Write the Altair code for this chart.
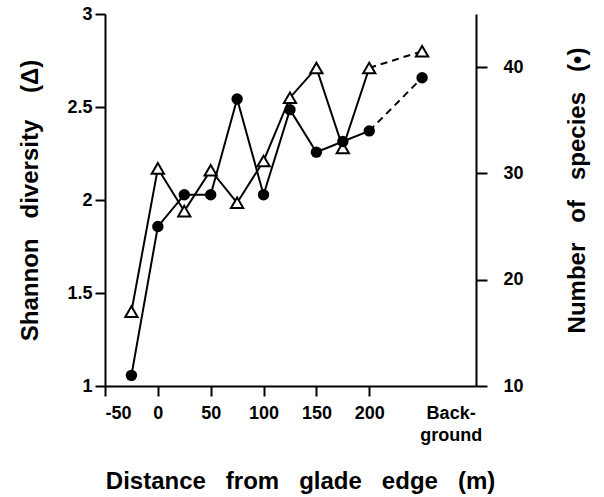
import altair as alt
import pandas as pd

# ---- data ----
DIST = [-25, 0, 25, 50, 75, 100, 125, 150, 175, 200, 250]   # 250 = "Background"
SHANNON = [1.40, 2.17, 1.94, 2.16, 1.985, 2.21, 2.55, 2.71, 2.28, 2.71, 2.80]
SPECIES = [11, 25, 28, 28, 37, 28, 36, 32, 33, 34, 39]

X_TICKS = [-50, 0, 50, 100, 150, 200, 277]
X_LABELS = ["-50", "0", "50", "100", "150", "200", "Back-\nground"]
Y_LEFT_TICKS = [1, 1.5, 2, 2.5, 3]
Y_RIGHT_TICKS = [10, 20, 30, 40]

NB = "\u00a0"
X_TITLE = f"Distance{NB*3}from{NB*3}glade{NB*3}edge{NB*3}(m)"
Y_LEFT_TITLE = f"Shannon{NB*3}diversity{NB*4}(\u0394)"
Y_RIGHT_TITLE = f"Number{NB*3}of{NB*3}species{NB*3}(\u2022)"

df = pd.DataFrame({"dist": DIST, "shannon": SHANNON, "species": SPECIES})
solid = df[df["dist"] <= 200]
dashed = df[df["dist"] >= 200]

FONT = "Liberation Sans"
LABEL_SIZE = 18
TITLE_SIZE = 24

# label expression built from the lists
parts = []
for v, lab in zip(X_TICKS, X_LABELS):
    if "\n" in lab:
        a, b = lab.split("\n")
        parts.append(f"datum.value == {v} ? ['{a}', '{b}']")
    else:
        parts.append(f"datum.value == {v} ? '{lab}'")
x_label_expr = " : ".join(parts) + " : datum.label"

x_axis = alt.Axis(
    values=X_TICKS, labelExpr=x_label_expr, title=X_TITLE,
    tickSize=10, tickWidth=2, domainWidth=2, domainColor="black", tickColor="black",
    tickOpacity={"condition": {"test": "datum.value == 277", "value": 0}, "value": 1},
    labelPadding=8, labelFontSize=LABEL_SIZE, labelLineHeight=22, labelFont=FONT, labelFontWeight="bold",
    labelColor="black", grid=False,
    titleFont=FONT, titleFontSize=TITLE_SIZE, titleFontWeight="bold", titleColor="black",
    titleX=195, titleY=95, titleAlign="center", titleBaseline="middle",
)
X = alt.X("dist:Q", scale=alt.Scale(domain=[-50, 301], nice=False, zero=False), axis=x_axis)

yl_axis = alt.Axis(
    values=Y_LEFT_TICKS, format=".1~f", title=Y_LEFT_TITLE, orient="left",
    tickSize=10, tickWidth=2, domainWidth=2, domainColor="black", tickColor="black",
    labelPadding=3, labelFontSize=LABEL_SIZE, labelFont=FONT, labelFontWeight="bold", labelColor="black",
    grid=False,
    titleFont=FONT, titleFontSize=TITLE_SIZE, titleFontWeight="bold", titleColor="black",
    titleX=-75, titleY=186, titleAngle=270, titleAlign="center", titleBaseline="middle",
)
YL = alt.Y("shannon:Q", scale=alt.Scale(domain=[1, 3], nice=False, zero=False), axis=yl_axis)

yr_axis = alt.Axis(
    values=Y_RIGHT_TICKS, title=Y_RIGHT_TITLE, orient="right",
    tickSize=11, tickWidth=2, domainWidth=2, domainColor="black", tickColor="black",
    labelPadding=16, labelFontSize=LABEL_SIZE, labelFont=FONT, labelFontWeight="bold", labelColor="black",
    grid=False,
    titleFont=FONT, titleFontSize=TITLE_SIZE, titleFontWeight="bold", titleColor="black",
    titleX=101, titleY=176, titleAngle=270, titleAlign="center", titleBaseline="middle",
)
YR = alt.Y("species:Q", scale=alt.Scale(domain=[10, 45], nice=False, zero=False), axis=yr_axis)

sh_solid = alt.Chart(solid).mark_line(color="black", strokeWidth=2).encode(x=X, y=YL)
sh_dash = alt.Chart(dashed).mark_line(color="black", strokeWidth=2, strokeDash=[7, 5]).encode(x=X, y=YL)
sh_pts = alt.Chart(df).mark_point(shape="triangle-up", size=150, filled=True, fill="white",
                                   stroke="black", strokeWidth=2, opacity=1).encode(x=X, y=YL)
shannon = alt.layer(sh_solid, sh_dash, sh_pts)

sp_solid = alt.Chart(solid).mark_line(color="black", strokeWidth=2).encode(x=X, y=YR)
sp_dash = alt.Chart(dashed).mark_line(color="black", strokeWidth=2, strokeDash=[7, 5]).encode(x=X, y=YR)
sp_pts = alt.Chart(df).mark_circle(size=130, color="black", opacity=1).encode(x=X, y=YR)
species = alt.layer(sp_solid, sp_dash, sp_pts)

chart = alt.layer(shannon, species).resolve_scale(y="independent").properties(
    width=371, height=372,
    autosize=alt.AutoSizeParams(type="none"),
    padding={"left": 105, "top": 14, "right": 128, "bottom": 111},
    background="white",
).configure_view(stroke=None)

chart.save("out.html", embed_options={"renderer": "svg", "actions": False})
